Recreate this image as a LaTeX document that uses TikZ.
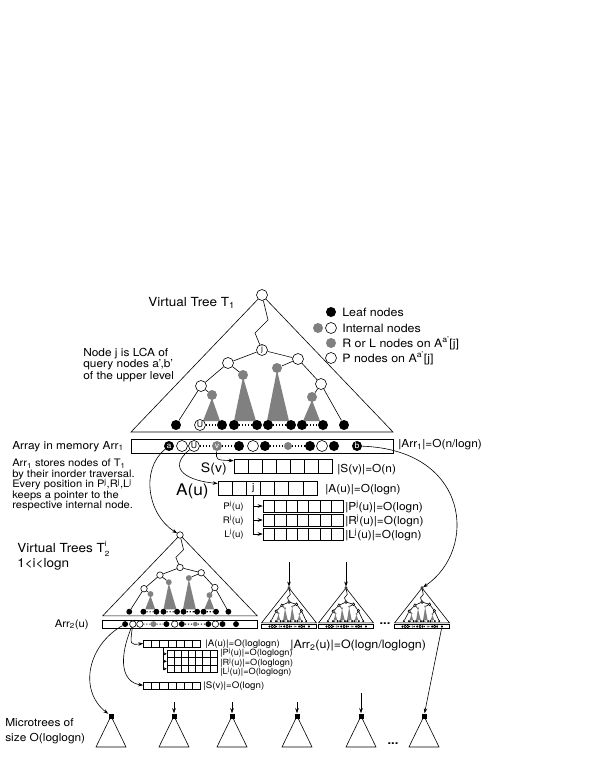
\documentclass[tikz,border=0pt]{standalone}
\usepackage{fontspec}
\setmainfont{TeX Gyre Heros}[FakeStretch=1.08]
\usetikzlibrary{arrows.meta,calc}

\newcommand\fs[2]{\fontsize{#1}{#2}\selectfont\lineskiplimit=-20pt}
\newcommand\subsup[2]{\rlap{\raisebox{6pt}{\fs{7.5}{7.5}#2}}\raisebox{-3.5pt}{\fs{7.5}{7.5}#1}}

\tikzset{cellrow/.style={draw,inner sep=0,path picture={
  \foreach \k in {1,...,6}
    \draw ($(path picture bounding box.south west)!\k/7!(path picture bounding box.south east)$)
       -- ($(path picture bounding box.north west)!\k/7!(path picture bounding box.north east)$);}}}

% virtual tree with its array: #1 name, #2 root, #3 scaling, #4 style of 2nd leaf
\newcommand\vtree[4]{%
\begin{scope}[shift={#2},#3,transform shape]
  \draw (0,0) -- (-131,137) -- (131,137) -- cycle;
  \fill[black!50] (-50,103) -- (-59,126) -- (-42,126) -- cycle;
  \fill[black!50] (-19,82) -- (-28,126) -- (-6,126) -- cycle;
  \fill[black!50] (15,75) -- (5,126) -- (27,126) -- cycle;
  \fill[black!50] (50,105) -- (41,126) -- (58,126) -- cycle;
  \node[wnode] (#1-r) at (0,0) {};
  \node[wnode] (#1-j) at (0,55) {};
  \node[wnode] (#1-a) at (-34,68) {};
  \node[wnode] (#1-b) at (36,64) {};
  \node[wnode] (#1-c) at (-61,91) {};
  \node[wnode] (#1-d) at (59,89) {};
  \node[gnode] (#1-ga) at (-19,80) {};
  \node[gnode] (#1-gb) at (15,73) {};
  \node[gnode] (#1-gc) at (-50,100) {};
  \node[gnode] (#1-gd) at (50,102) {};
  \draw (#1-r) -- (6,25) -- (-7,38) -- (#1-j);
  \draw (#1-j) -- (#1-a) (#1-j) -- (#1-b) (#1-a) -- (#1-ga) (#1-a) -- (#1-c)
        (#1-b) -- (#1-gb) (#1-b) -- (#1-d) (#1-c) -- (#1-gc) (#1-d) -- (#1-gd);
  \foreach \x/\s [count=\k] in {-86/bnode,-62/#4,-40/bnode,-28/bnode,-5/bnode,6/bnode,29/bnode,40/bnode,61/bnode,82/bnode}
    \node[\s] (#1-l\k) at (\x,130) {};
  \draw (#1-c) -- (#1-l1) (#1-d) -- (#1-l10);
  \node[draw,inner sep=0,minimum width=262pt,minimum height=14pt] (#1-arr) at (0,151) {};
  \foreach \x/\s [count=\k] in {-93/bnode,-80/wnode,-68/wnode,-45/gnode,-23/bnode,-9/wnode,3/bnode,26/gsmall,48/bnode,60/wnode,72/bnode,95/bnode}
    \node[\s] (#1-e\k) at (\x,151) {};
  \draw[dots] (#1-l2) -- (#1-l3) (#1-l4) -- (#1-l5) (#1-l6) -- (#1-l7) (#1-l8) -- (#1-l9)
        (#1-e3) -- (#1-e4) (#1-e4) -- (#1-e5) (#1-e7) -- (#1-e8) (#1-e8) -- (#1-e9);
\end{scope}}

\begin{document}
\begin{tikzpicture}[x=1pt,y=-1pt,>={Stealth[length=5pt,width=3.6pt]},line width=0.6pt,font=\fs{11.5}{12}]
\tikzstyle{wnode}=[circle,draw,fill=white,inner sep=0,minimum size=11pt]
\tikzstyle{gnode}=[circle,fill=black!50,inner sep=0,minimum size=10pt]
\tikzstyle{gsmall}=[circle,fill=black!50,inner sep=0,minimum size=8pt]
\tikzstyle{bnode}=[circle,fill=black,inner sep=0,minimum size=10pt]
\tikzstyle{sq}=[fill=black,inner sep=0,minimum size=5pt]
\tikzstyle{dots}=[line width=1.1pt,dash pattern=on 1.1pt off 1.9pt]
\tikzstyle{txt}=[inner sep=0,anchor=base west]
\tikzstyle{rtxt}=[inner sep=0,anchor=base east]
\tikzstyle{ltr}=[inner sep=0,font=\fs{8}{8}]
\tikzstyle{small}=[-{Stealth[length=3pt,width=3pt]}]

\useasboundingbox (0,0) rectangle (595,770);

% trees
\vtree{T1}{(262,295)}{scale=1}{wnode}
\vtree{T2}{(180,535)}{scale=0.59}{bnode}
\vtree{st1}{(289,588)}{xscale=0.21,yscale=0.255}{bnode}
\vtree{st2}{(346,588)}{xscale=0.21,yscale=0.255}{bnode}
\vtree{st3}{(422,588)}{xscale=0.21,yscale=0.255}{bnode}
\node[ltr] (lj) at (T1-j) {j};
\node[ltr] (lu) at (T1-l2) {U};
\node[ltr,text=white] (la) at (T1-e1) {a};
\node[ltr] (lu2) at (T1-e3) {U};
\node[ltr,text=white] (lv) at (T1-e4) {v};
\node[ltr,text=white] (lb) at (T1-e12) {b};
\node[font=\fs{12}{12}] (sdots) at (385,624) {\textbf{...}};

% legend
\node[bnode] (lg1) at (331,312) {};
\node[gnode] (lg2a) at (318,328) {};
\node[wnode] (lg2) at (331,328) {};
\node[gnode] (lg3) at (331,343) {};
\node[wnode] (lg4) at (331,358) {};
\node[txt] (lt1) at (342,316) {Leaf nodes};
\node[txt] (lt2) at (342,332) {Internal nodes};
\node[txt] (lt3) at (342,347) {R or L nodes on A\textsuperscript{a'}[j]};
\node[txt] (lt4) at (342,362) {P nodes on A\textsuperscript{a'}[j]};

% texts on the left
\node[txt,font=\fs{12.5}{13}] (tT1) at (148,306) {Virtual Tree T\textsubscript{1}};
\node[inner sep=0,anchor=north west,align=left,font=\fs{11}{11.7}] (tlca) at (83,347.5)
  {Node j is LCA of\\query nodes a',b'\\of the upper level};
\node[txt,font=\fs{11}{11}] (tarr) at (12,449) {Array in memory Arr\textsubscript{1}};
\node[inner sep=0,anchor=north west,align=left,font=\fs{10.3}{10.4}] (tstore) at (12,459)
  {Arr\textsubscript{1} stores nodes of T\textsubscript{1}\\by their inorder traversal.\\Every position in P\textsuperscript{j},R\textsuperscript{j},L\textsuperscript{j}\\keeps a pointer to the\\respective internal node.};
\node[txt,font=\fs{12.5}{13}] (tT2) at (17,552.5) {Virtual Trees T\subsup{2}{i}};
\node[txt,font=\fs{12.5}{13}] (tI) at (17,567.5) {1<i<logn};
\node[rtxt,font=\fs{10.5}{11}] (tArr2) at (89,627) {Arr\textsubscript{2}(u)};
\node[inner sep=0,anchor=north west,align=left,font=\fs{11}{15.5}] (tmicro) at (5,718)
  {Microtrees of\\size O(loglogn)};

% arrays of the upper level
\node[cellrow,minimum width=98pt,minimum height=14pt] (S) at (283,466) {};
\node[cellrow,minimum width=99pt,minimum height=13.5pt] (A) at (267.5,488.5) {};
\node[inner sep=0,minimum width=14.1pt,minimum height=13.5pt,font=\fs{10}{10}] (Aj) at (253.4,488.5) {j};
\foreach \n/\y in {P/506,R/520,L/534}
  \node[cellrow,minimum width=80pt,minimum height=12pt] (\n) at (303,\y) {};
\node[rtxt,font=\fs{13}{13}] (tS) at (227,472.5) {S(v)};
\node[rtxt,font=\fs{16}{16}] (tA) at (209,495.5) {A(u)};
\node[rtxt,font=\fs{9}{9}] (tP) at (244,509.3) {P\textsuperscript{j}(u)};
\node[rtxt,font=\fs{9}{9}] (tR) at (244,523.3) {R\textsuperscript{j}(u)};
\node[rtxt,font=\fs{9}{9}] (tL) at (244,537.3) {L\textsuperscript{j}(u)};
\node[txt,font=\fs{11}{11}] (cArr1) at (398,447.5) {|Arr\textsubscript{1}|=O(n/logn)};
\node[txt,font=\fs{11}{11}] (cS) at (337,472) {|S(v)|=O(n)};
\node[txt,font=\fs{11}{11}] (cA) at (325,492.3) {|A(u)|=O(logn)};
\node[txt,font=\fs{11}{11}] (cP) at (345,510) {|P\textsuperscript{j}(u)|=O(logn)};
\node[txt,font=\fs{11}{11}] (cR) at (345,524) {|R\textsuperscript{j}(u)|=O(logn)};
\node[txt,font=\fs{11}{11}] (cL) at (345,538) {|L\textsuperscript{j}(u)|=O(logn)};
\draw[->] (Aj.south) |- (P.west);
\draw[->] (Aj.south) |- (R.west);
\draw[->] (Aj.south) |- (L.west);

% arrays of the lower level
\node[cellrow,minimum width=57pt,minimum height=7pt] (As) at (172,643.5) {};
\node[inner sep=0,minimum width=8.1pt,minimum height=7pt] (Asj) at (163.6,643.5) {};
\foreach \n/\y in {Ps/653.8,Rs/661.3,Ls/668.8}
  \node[cellrow,minimum width=50pt,minimum height=7.5pt] (\n) at (192,\y) {};
\node[cellrow,minimum width=57pt,minimum height=7pt] (Ss) at (172,685.3) {};
\node[txt,font=\fs{9}{9}] (cAs) at (205,646.8) {|A(u)|=O(loglogn)};
\node[txt,font=\fs{8.5}{8.5}] (cPs) at (220,655.5) {|P\textsuperscript{j}(u)|=O(loglogn)};
\node[txt,font=\fs{8.5}{8.5}] (cRs) at (220,665) {|R\textsuperscript{j}(u)|=O(loglogn)};
\node[txt,font=\fs{8.5}{8.5}] (cLs) at (220,674.5) {|L\textsuperscript{j}(u)|=O(loglogn)};
\node[txt,font=\fs{9}{9}] (cSs) at (203,688) {|S(v)|=O(logn)};
\node[txt,font=\fs{11.5}{12}] (cArr2) at (290,648.5) {|Arr\textsubscript{2}(u)|=O(logn/loglogn)};
\draw[small] (Asj.south) |- (Ps.west);
\draw[small] (Asj.south) |- (Rs.west);
\draw[small] (Asj.south) |- (Ls.west);

% microtrees
\foreach \x [count=\k] in {111,174,232,297,361,424} {
  \draw (\x,716) -- (\x-15,747) -- (\x+15,747) -- cycle;
  \node[sq] (m\k) at (\x,716) {};
}
\node[font=\fs{12}{12}] (mdots) at (393,744) {\textbf{...}};

% pointers
\draw[->] (T1-e1) .. controls (140,470) and (148,515) .. (T2-r);
\draw[->] (T1-e3) .. controls (165,470) and (190,481) .. ($(A.north west)+(0,2)$);
\draw[->] (T1-e4) .. controls (216,460) .. ($(S.north west)+(0,2)$);
\draw[->] (T1-e12) .. controls (470,450) and (478,550) .. (st3-r);
\draw[->] (T2-e1) .. controls (88,645) and (78,690) .. (m1);
\draw[->] (T2-e2) .. controls (130,645) .. (As.west);
\draw[->] (T2-e2) .. controls (118,660) and (122,682) .. (Ss.west);
\draw[->] (st3-e12) -- (m6);
\coordinate (q1) at (289,562);
\coordinate (q2) at (346,562);
\draw[->] (q1) -- (st1-r);
\draw[->] (q2) -- (st2-r);
\foreach \k/\x/\y in {2/174/702,3/232/702,4/297/702,5/361/693}
  \coordinate (p\k) at (\x,\y);
\foreach \k in {2,...,5}
  \draw[->] (p\k) -- (m\k);
\end{tikzpicture}
\end{document}
